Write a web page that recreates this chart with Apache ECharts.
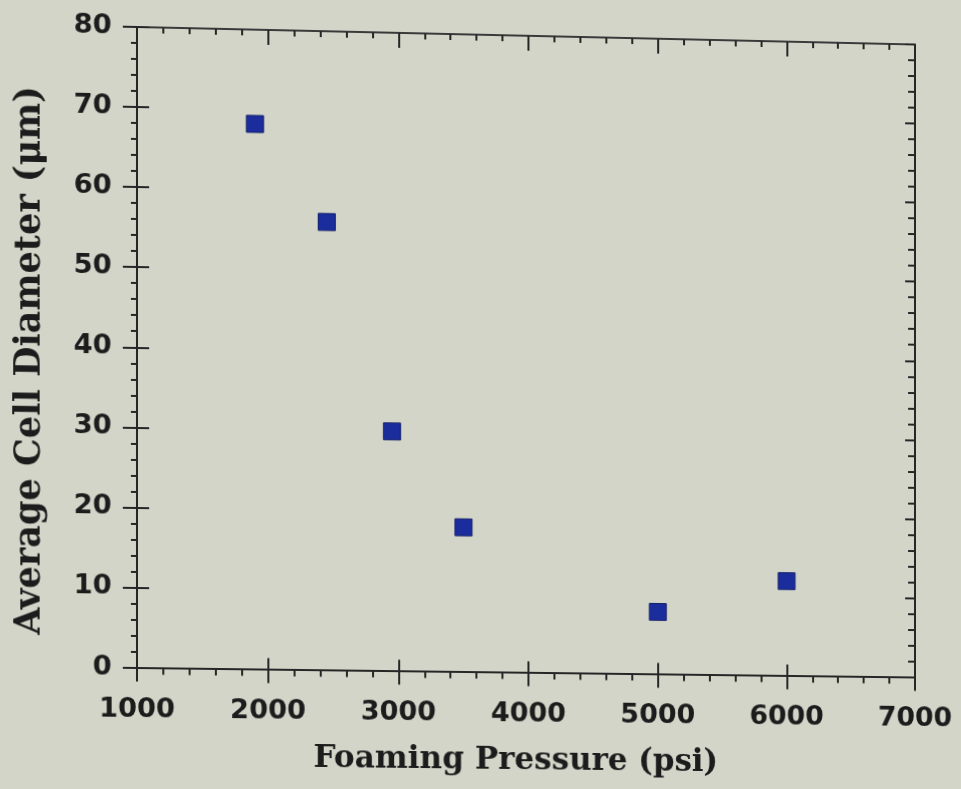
<!DOCTYPE html>
<html>
<head>
<meta charset="utf-8">
<script src="https://cdn.jsdelivr.net/npm/echarts@6/dist/echarts.min.js"></script>
<style>
  html, body { margin: 0; padding: 0; background: #d3d5c9; overflow: hidden; }
  /* slight keystone of the scanned sheet: right side drops and shrinks a little */
  #chart {
    width: 961px; height: 789px;
    transform-origin: 137px 347.5px;
    transform: matrix3d(1.01266, 0.01757, 0, 0.00001627, 0, 1, 0, 0, 0, 0, 1, 0, 0, 0, 0, 1);
  }
</style>
</head>
<body>
<div id="chart"></div>
<script>
// Foaming pressure (psi) vs. average cell diameter (µm)
const pressure = [1900, 2450, 2950, 3500, 5000, 6000];
const cellDiameter = [68.2, 56.1, 30.0, 18.1, 7.8, 11.9];

const xTicks = [1000, 2000, 3000, 4000, 5000, 6000, 7000];
const yTicks = [0, 10, 20, 30, 40, 50, 60, 70, 80];

const xTitle = 'Foaming Pressure (psi)';
const yTitle = 'Average Cell Diameter (μm)';

const ink = '#1c1c1c';
const axisInk = '#262626';
const labelFont = { fontFamily: 'DejaVu Sans', fontWeight: 'bold', fontSize: 27, color: ink };
const titleFont = { fontFamily: 'DejaVu Serif', fontWeight: 'bold', color: ink };

const xMin = xTicks[0], xMax = xTicks[xTicks.length - 1], xStep = xTicks[1] - xTicks[0];
const yMin = yTicks[0], yMax = yTicks[yTicks.length - 1], yStep = yTicks[1] - yTicks[0];

const gridBox = { left: 137, top: 27, right: 46, bottom: 121.5 };

function valueAxis(min, max, step, extra) {
  const base = {
    type: 'value', min: min, max: max, interval: step,
    splitLine: { show: false },
    axisLabel: { show: false },
    axisTick: { show: false },
    minorTick: { show: false }
  };
  const axis = Object.assign(base, extra);
  // every frame side stays on its own edge of the plot
  axis.axisLine = Object.assign(
    { show: true, onZero: false, lineStyle: { color: axisInk, width: 2 } },
    extra.axisLine || {},
    { onZero: false }
  );
  return axis;
}

const points = pressure.map((p, i) => [p, cellDiameter[i]]);

const chart = echarts.init(document.getElementById('chart'), null, { renderer: 'canvas' });
chart.setOption({
  backgroundColor: '#d3d5c9',
  animation: false,
  grid: [
    Object.assign({ containLabel: false }, gridBox),
    Object.assign({ containLabel: false }, gridBox)
  ],
  xAxis: [
    valueAxis(xMin, xMax, xStep, {
      gridIndex: 0, position: 'bottom',
      axisLabel: Object.assign({ show: true, margin: 29, formatter: v => String(v) }, labelFont),
      axisTick: { show: true, inside: false, length: 14, lineStyle: { color: axisInk, width: 2 } },
      minorTick: { show: true, splitNumber: 5, length: 7, lineStyle: { color: axisInk, width: 2 } },
      name: xTitle, nameLocation: 'middle', nameGap: 74,
      nameTextStyle: Object.assign({ fontSize: 31, padding: [0, 24, 0, 0] }, titleFont)
    }),
    valueAxis(xMin, xMax, xStep, {
      gridIndex: 0, position: 'top',
      axisLine: { show: true, lineStyle: { color: '#3a3a3a', width: 2 } },
      axisTick: { show: true, inside: true, length: 15, lineStyle: { color: axisInk, width: 2 } },
      minorTick: { show: true, splitNumber: 5, length: 6, lineStyle: { color: axisInk, width: 2 } }
    }),
    valueAxis(xMin, xMax, xStep, {
      gridIndex: 1, position: 'bottom',
      axisLine: { show: false },
      axisTick: { show: true, inside: true, length: 11, lineStyle: { color: axisInk, width: 2 } }
    })
  ],
  yAxis: [
    valueAxis(yMin, yMax, yStep, {
      gridIndex: 0, position: 'left',
      axisLabel: Object.assign({ show: true, margin: 25, formatter: v => String(v) }, labelFont),
      axisTick: { show: true, inside: false, length: 14, lineStyle: { color: axisInk, width: 2 } },
      minorTick: { show: true, splitNumber: 5, length: 6, lineStyle: { color: axisInk, width: 2 } },
      name: yTitle, nameLocation: 'middle', nameGap: 88, nameRotate: 90,
      nameTextStyle: Object.assign({ fontSize: 35, padding: [0, 30, 0, 0] }, titleFont)
    }),
    valueAxis(yMin, yMax, yStep, {
      gridIndex: 0, position: 'right',
      axisTick: { show: true, inside: true, length: 10, lineStyle: { color: axisInk, width: 2 } },
      minorTick: { show: true, splitNumber: 5, length: 7, lineStyle: { color: axisInk, width: 2 } }
    }),
    valueAxis(yMin, yMax, yStep, {
      gridIndex: 1, position: 'left',
      axisLine: { show: false },
      axisTick: { show: true, inside: true, length: 12, lineStyle: { color: axisInk, width: 2 } }
    })
  ],
  series: [{
    type: 'scatter',
    xAxisIndex: 0, yAxisIndex: 0,
    data: points,
    symbol: 'rect',
    symbolSize: 17,
    itemStyle: { color: '#1b2c9c', borderColor: '#15216b', borderWidth: 1, opacity: 1 },
    emphasis: { disabled: true }
  }]
});
</script>
</body>
</html>
